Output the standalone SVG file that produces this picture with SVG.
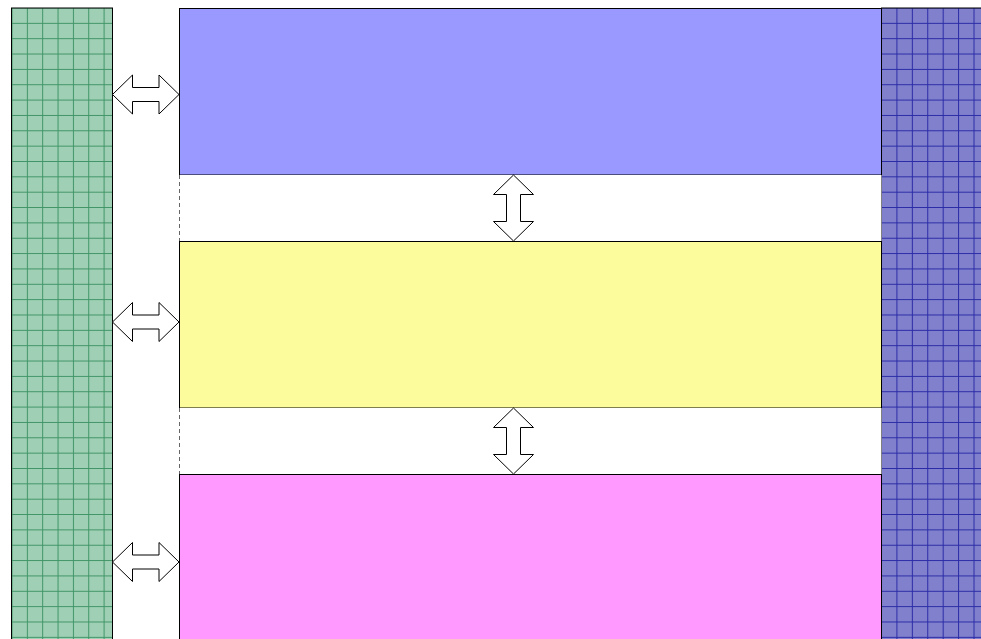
<svg xmlns="http://www.w3.org/2000/svg" width="981" height="639" viewBox="0 0 981 639">
<style>
.box{stroke:#000;stroke-width:1}
.arr{fill:#fff;stroke:#000;stroke-width:1;stroke-linejoin:miter}
.dash{stroke:#666;stroke-width:1;stroke-dasharray:4,3;fill:none}
</style>
<defs>
<pattern id="gg" patternUnits="userSpaceOnUse" x="11.5" y="7.5" width="15.35" height="15.35">
<rect width="15.35" height="15.35" fill="#9fcfb4"/>
<path d="M0 0.5H15.35M0.5 0V15.35" stroke="#2e8a58" stroke-width="1" opacity="0.85"/>
</pattern>
<pattern id="bg" patternUnits="userSpaceOnUse" x="881" y="7.5" width="15.42" height="15.35">
<rect width="15.42" height="15.35" fill="#8080cc"/>
<path d="M0 0.5H15.42M0.5 0V15.35" stroke="#1a1aa0" stroke-width="1" opacity="0.85"/>
</pattern>
</defs>
<rect width="981" height="639" fill="#fff"/>
<g id="left-column">
<rect x="11.5" y="8" width="101" height="640" fill="url(#gg)" class="box"/>
</g>
<g id="right-column">
<rect x="881.5" y="8" width="110" height="640" fill="url(#bg)" class="box"/>
</g>
<g id="band-top">
<rect x="179.5" y="8.5" width="702" height="166.5" fill="#9999ff" class="box"/>
</g>
<g id="gap-1">
<rect x="179.5" y="175" width="702" height="66" fill="#fff" stroke="none"/>
<path d="M179.5 175V241" class="dash"/>
</g>
<g id="band-middle">
<rect x="179.5" y="241.5" width="702" height="166.5" fill="#fcfc9c" class="box"/>
</g>
<g id="gap-2">
<rect x="179.5" y="408" width="702" height="66" fill="#fff" stroke="none"/>
<path d="M179.5 408V474" class="dash"/>
</g>
<g id="band-bottom">
<rect x="179.5" y="474.5" width="702" height="170" fill="#ff99ff" class="box"/>
</g>
<g id="connectors">
<path class="arr" d="M112.5 94.5L132.5 75V87.5H159V75L179 94.5L159 114V101.5H132.5V114Z"/>
<path class="arr" d="M112.5 322L132.5 302.5V315H159V302.5L179 322L159 341.5V329H132.5V341.5Z"/>
<path class="arr" d="M112.5 562L132.5 542.5V555H159V542.5L179 562L159 581.5V569H132.5V581.5Z"/>
<path class="arr" d="M513.5 175L533.5 194.5H520.5V221.5H533.5L513.5 241L493.5 221.5H506.5V194.5H493.5Z"/>
<path class="arr" d="M513.5 408L533.5 427.5H520.5V454.5H533.5L513.5 474L493.5 454.5H506.5V427.5H493.5Z"/>
</g>
</svg>
